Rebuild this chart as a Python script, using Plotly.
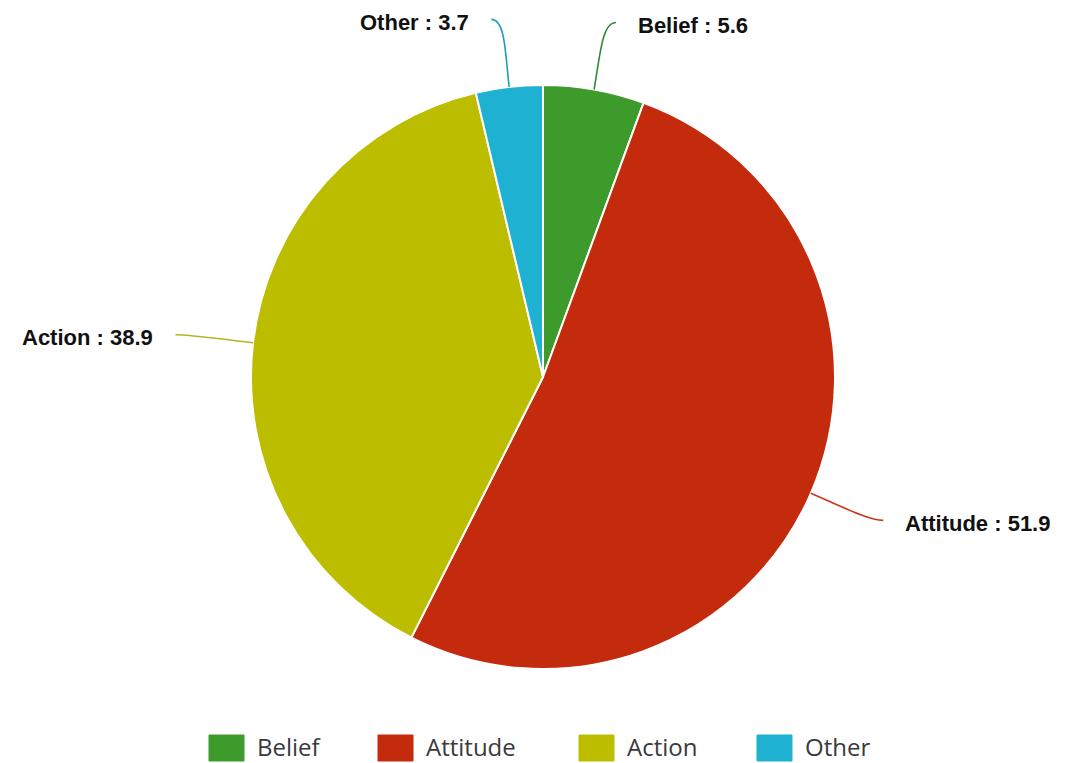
import math
import plotly.graph_objects as go

# Slice data
labels = ["Belief", "Attitude", "Action", "Other"]
values = [5.6, 51.9, 38.9, 3.7]
colors = ["#3d9b2b", "#c42b0d", "#bdbd00", "#1fb1d1"]
line_colors = ["#2f8a3a", "#c23a1e", "#b5b520", "#1f9fb8"]

# Canvas geometry (pixels)
W, H = 1072, 763
CX, CY, R = 543, 377, 292
ELBOW = R + 68      # where the leader line turns horizontal
TAIL = 10           # horizontal tail length
GAP = 20            # space between tail and label text

# Legend layout (pixels)
LEGEND_Y = 746
LEGEND_X = [209, 378, 579, 757]
SWATCH = 35


def px(x):
    return x / W


def py(y):
    return 1 - y / H


fig = go.Figure(
    go.Pie(
        labels=labels,
        values=values,
        sort=False,
        direction="clockwise",
        rotation=0,
        marker=dict(colors=colors, line=dict(color="white", width=2)),
        textinfo="none",
        hoverinfo="label+value",
        showlegend=False,
        domain=dict(x=[px(CX - R), px(CX + R)], y=[py(CY + R), py(CY - R)]),
    )
)

shapes = []
annotations = []
total = sum(values)
cum = 0.0
for lab, val, lc in zip(labels, values, line_colors):
    mid = (cum + val / 2) / total * 2 * math.pi
    cum += val
    s, c = math.sin(mid), math.cos(mid)
    side = 1 if s >= 0 else -1
    x0, y0 = CX + R * s, CY - R * c
    xe, ye = CX + ELBOW * s, CY - ELBOW * c
    x3, y3 = xe + side * TAIL, ye
    # control points: leave the rim radially, arrive horizontally
    x1, y1 = CX + (R + 35) * s, CY - (R + 35) * c
    x2, y2 = xe - side * 4, ye
    path = (
        f"M {px(x0)},{py(y0)} C {px(x1)},{py(y1)} {px(x2)},{py(y2)} {px(x3)},{py(y3)}"
    )
    shapes.append(
        dict(type="path", path=path, xref="paper", yref="paper",
             line=dict(color=lc, width=1.6))
    )
    annotations.append(
        dict(
            x=px(x3 + side * GAP), y=py(y3 + 3), xref="paper", yref="paper",
            text=f"<b>{lab} : {val}</b>", showarrow=False,
            xanchor="left" if side > 0 else "right", yanchor="middle",
            font=dict(family="Liberation Sans, Arial, sans-serif", size=22, color="#111111"),
        )
    )

# Legend swatches and labels
for lab, col, lx in zip(labels, colors, LEGEND_X):
    shapes.append(
        dict(type="rect", xref="paper", yref="paper",
             x0=px(lx), x1=px(lx + SWATCH),
             y0=py(LEGEND_Y + 15), y1=py(LEGEND_Y - 11),
             fillcolor=col, line=dict(color=col, width=1))
    )
    annotations.append(
        dict(x=px(lx + SWATCH + 11), y=py(LEGEND_Y), xref="paper", yref="paper",
             text=lab, showarrow=False, xanchor="left", yanchor="middle",
             font=dict(family="Open Sans, sans-serif", size=24, color="#3a3a3a"))
    )

fig.update_layout(
    width=W,
    height=H,
    margin=dict(l=0, r=0, t=0, b=0),
    paper_bgcolor="white",
    plot_bgcolor="white",
    shapes=shapes,
    annotations=annotations,
)

fig.write_html("out.html")
